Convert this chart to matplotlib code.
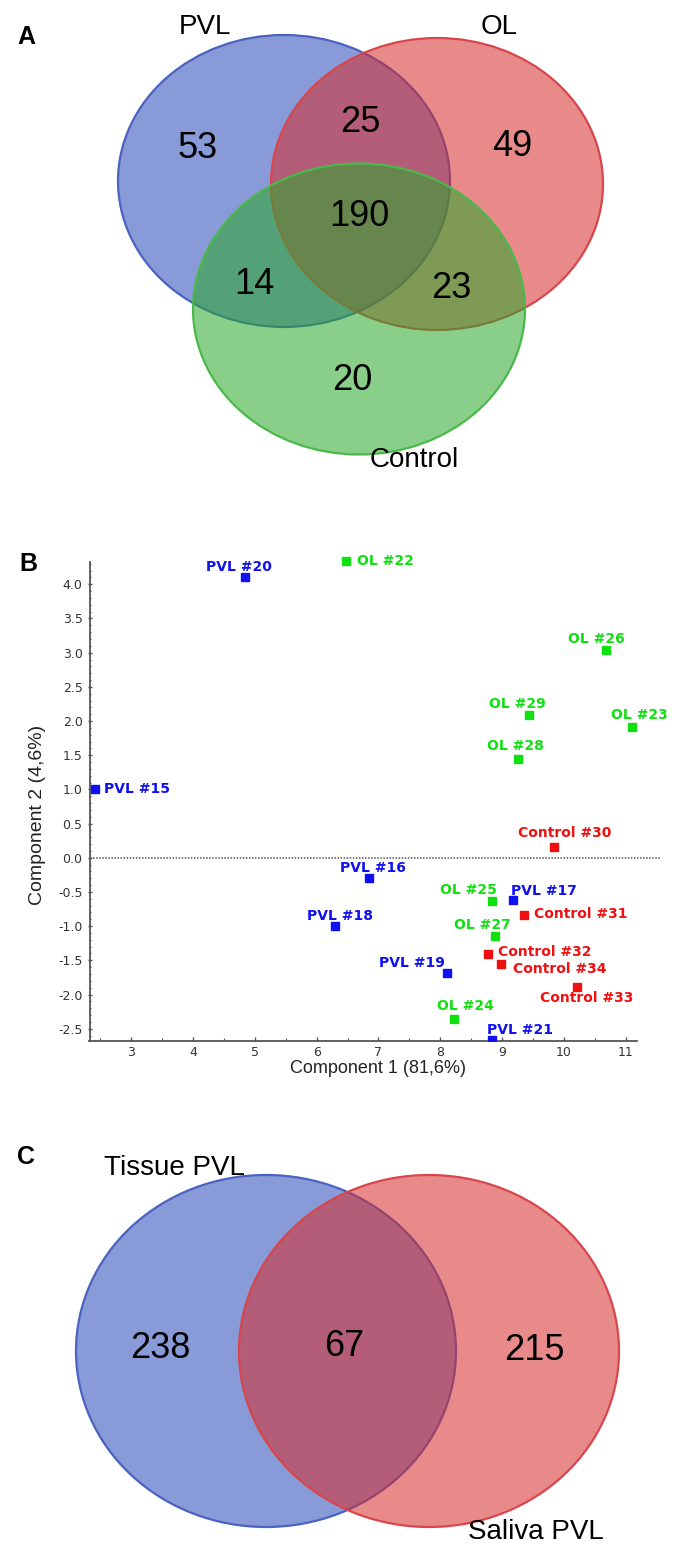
import matplotlib
matplotlib.use('Agg')
import numpy as np
import matplotlib.pyplot as plt
from matplotlib.patches import Ellipse
from matplotlib.ticker import FixedLocator, FormatStrFormatter

plt.rcParams['font.family'] = ['Liberation Sans', 'DejaVu Sans']
plt.rcParams['axes.unicode_minus'] = False

# Panel A: three-way Venn (PVL / OL / Control)
venn3_sets = ['PVL', 'OL', 'Control']
venn3_counts = [53, 49, 20, 25, 14, 23, 190]  # P only, O only, C only, P&O, P&C, O&C, all

# Panel B: PCA scores
samples = ['PVL #15', 'PVL #16', 'PVL #17', 'PVL #18', 'PVL #19', 'PVL #20', 'PVL #21',
           'OL #22', 'OL #23', 'OL #24', 'OL #25', 'OL #26', 'OL #27', 'OL #28', 'OL #29',
           'Control #30', 'Control #31', 'Control #32', 'Control #33', 'Control #34']
groups = ['PVL'] * 7 + ['OL'] * 8 + ['Control'] * 5
pc1 = [2.42, 6.85, 9.17, 6.29, 8.10, 4.84, 8.83,
       6.48, 11.09, 8.22, 8.84, 10.68, 8.89, 9.26, 9.44,
       9.84, 9.36, 8.77, 10.21, 8.98]
pc2 = [1.01, -0.29, -0.62, -1.00, -1.68, 4.11, -2.66,
       4.34, 1.92, -2.36, -0.63, 3.04, -1.15, 1.44, 2.09,
       0.16, -0.83, -1.41, -1.89, -1.56]

# Panel C: two-way Venn
venn2_sets = ['Tissue PVL', 'Saliva PVL']
venn2_counts = [238, 215, 67]  # tissue only, saliva only, shared

# label placement (pixel offsets from the marker, alignment)
label_pos = {
    'PVL #15': (9, 0, 'left'), 'PVL #16': (4, 10, 'center'), 'PVL #17': (31, 9, 'center'),
    'PVL #18': (5, 10, 'center'), 'PVL #19': (-35, 10, 'center'), 'PVL #20': (-6, 10, 'center'),
    'PVL #21': (28, 10, 'center'), 'OL #22': (11, 0, 'left'), 'OL #23': (8, 12, 'center'),
    'OL #24': (11, 13, 'center'), 'OL #25': (-24, 11, 'center'), 'OL #26': (-10, 11, 'center'),
    'OL #27': (-13, 11, 'center'), 'OL #28': (-3, 13, 'center'), 'OL #29': (-12, 11, 'center'),
    'Control #30': (10, 14, 'center'), 'Control #31': (10, 1, 'left'),
    'Control #32': (10, 2, 'left'), 'Control #33': (10, -11, 'center'),
    'Control #34': (12, -5, 'left'),
}
group_colors = {'PVL': '#1010f0', 'OL': '#10e010', 'Control': '#f01010'}

fig = plt.figure(figsize=(6.8, 15.44), dpi=100)

# background axes in pixel units for the two Venn diagrams
bg = fig.add_axes([0, 0, 1, 1])
bg.set_xlim(0, 680)
bg.set_ylim(1544, 0)
bg.axis('off')

blue = (0.16, 0.28, 0.72)
red = (0.84, 0.17, 0.17)
green = (0.16, 0.66, 0.16)
blue_e = '#4a62c0'
red_e = '#d8464c'
green_e = '#4cb84c'
alpha = 0.55


def circle(cx, cy, w, h, fc, ec):
    bg.add_patch(Ellipse((cx, cy), w, h, facecolor=fc + (alpha,), edgecolor=ec, lw=1.6))


# --- A ---
circle(284, 181, 332, 292, blue, blue_e)
circle(437, 184, 332, 292, red, red_e)
circle(359, 309, 332, 291, green, green_e)

bg.text(26, 37, 'A', fontsize=18, fontweight='bold', ha='center', va='center')
set_xy = [(205, 27), (499, 27), (414, 460)]
for name, (x, y) in zip(venn3_sets, set_xy):
    bg.text(x, y, name, fontsize=20, ha='center', va='center')
count_xy = [(198, 149), (512, 147), (352, 380), (360, 123), (254, 285), (451, 288), (359, 217)]
for n, (x, y) in zip(venn3_counts, count_xy):
    bg.text(x, y, str(n), fontsize=26, ha='center', va='center')

# --- C ---
circle(266, 1351, 380, 352, blue, blue_e)
circle(429, 1351, 380, 352, red, red_e)

bg.text(26, 1157, 'C', fontsize=18, fontweight='bold', ha='center', va='center')
bg.text(174, 1168, venn2_sets[0], fontsize=20, ha='center', va='center')
bg.text(536, 1532, venn2_sets[1], fontsize=20, ha='center', va='center')
count2_xy = [(160, 1348), (534, 1350), (344, 1347)]
for n, (x, y) in zip(venn2_counts, count2_xy):
    bg.text(x, y, str(n), fontsize=26, ha='center', va='center')

# --- B ---
bg.text(28, 564, 'B', fontsize=18, fontweight='bold', ha='center', va='center')

ax = fig.add_axes([89.5 / 680, (1544 - 1041) / 1544, 570.5 / 680, 485.4 / 1544])
ax.patch.set_alpha(0)
ax.set_xlim(2.33, 11.55)
ax.set_ylim(-2.68, 4.42)
for s in ['top', 'right']:
    ax.spines[s].set_visible(False)
ax.spines['left'].set_bounds(-2.68, 4.33)
ax.spines['bottom'].set_bounds(2.33, 11.18)
for s in ['left', 'bottom']:
    ax.spines[s].set_color('#555555')
    ax.spines[s].set_linewidth(1.3)

ax.axhline(0, color='#555555', lw=1.1, ls=(0, (1, 1)), zorder=1)

for name, g, x, y in zip(samples, groups, pc1, pc2):
    c = group_colors[g]
    ax.plot(x, y, marker='s', ms=5.5, color=c, ls='none', zorder=3)
    dx, dy, ha = label_pos[name]
    ax.annotate(name, (x, y), xytext=(dx, dy), textcoords='offset pixels',
                ha=ha, va='center', color=c, fontsize=10, fontweight='bold',
                family='DejaVu Sans')

ax.set_xticks(range(3, 12))
ax.set_yticks([-2.5, -2.0, -1.5, -1.0, -0.5, 0.0, 0.5, 1.0, 1.5, 2.0, 2.5, 3.0, 3.5, 4.0])
ax.xaxis.set_minor_locator(FixedLocator(np.arange(2.5, 11.0, 0.5)))
ax.yaxis.set_minor_locator(FixedLocator(np.round(np.arange(-2.6, 4.35, 0.1), 1)))
ax.yaxis.set_major_formatter(FormatStrFormatter('%.1f'))
ax.tick_params(axis='both', which='major', labelsize=9, colors='#555555', labelcolor='#333333',
               length=3, width=1)
ax.tick_params(axis='both', which='minor', colors='#555555', length=2, width=0.8)
ax.tick_params(axis='x', which='both', direction='in')
ax.tick_params(axis='y', which='both', direction='inout')
for lab in ax.get_xticklabels() + ax.get_yticklabels():
    lab.set_family('DejaVu Sans')

ax.set_xlabel('Component 1 (81,6%)', fontsize=13, color='#222222')
ax.xaxis.set_label_coords(0.505, -0.056)
ax.xaxis.label.set_va('center')
ax.set_ylabel('Component 2 (4,6%)', fontsize=14, color='#222222')
ax.yaxis.set_label_coords(-0.091, 0.466)
ax.yaxis.label.set_va('center')

plt.savefig('out.png', dpi=100)
plt.close()
